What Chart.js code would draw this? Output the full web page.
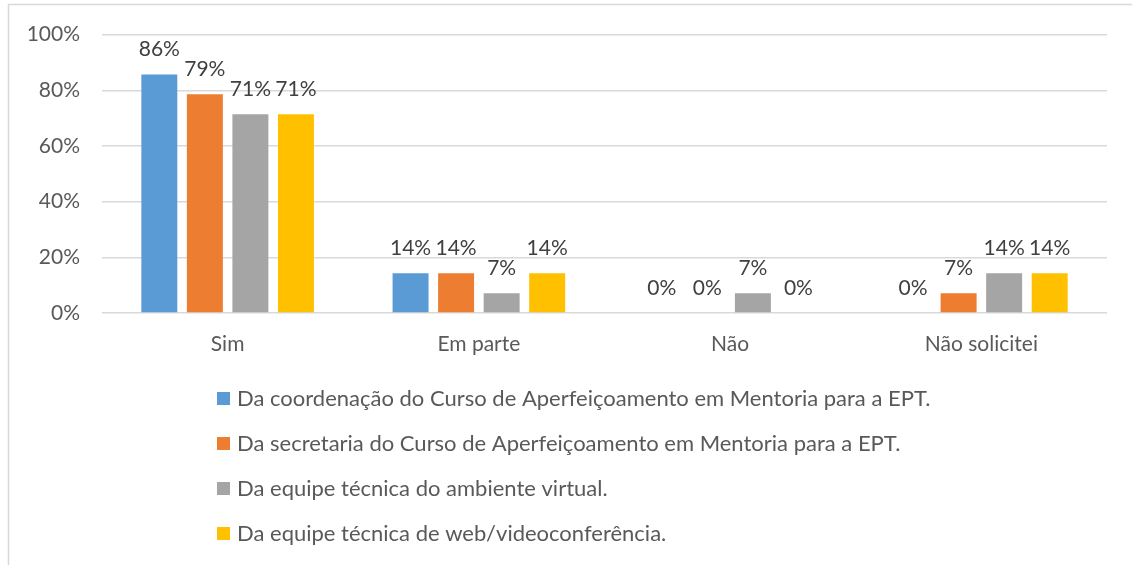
<!DOCTYPE html>
<html><head><meta charset="utf-8">
<script src="https://cdn.jsdelivr.net/npm/chart.js@4"></script>
<style>html,body{margin:0;padding:0;background:#fff;}#wrap{width:1132px;height:565px;position:relative}</style>
</head><body><div id="wrap"><canvas id="c" width="1132" height="565"></canvas></div>
<script>
const categories = ["Sim", "Em parte", "Não", "Não solicitei"];
const seriesNames = [
  "Da coordenação do Curso de Aperfeiçoamento em Mentoria para a EPT.",
  "Da secretaria do Curso de Aperfeiçoamento em Mentoria para a EPT.",
  "Da equipe técnica do ambiente virtual.",
  "Da equipe técnica de web/videoconferência."
];
const coordenacao = [85.7, 14.3, 0, 0];
const secretaria = [78.6, 14.3, 0, 7.1];
const ambienteVirtual = [71.4, 7.1, 7.1, 14.3];
const webconferencia = [71.4, 14.3, 0, 14.3];
const colors = ["#5b9bd5", "#ed7d31", "#a5a5a5", "#ffc000"];
const yTicks = [0, 20, 40, 60, 80, 100];

const FONT = "Lato, 'Open Sans', sans-serif";
const values = [coordenacao, secretaria, ambienteVirtual, webconferencia];

const framePlugin = {
  id: 'frame',
  beforeDraw(chart) {
    const ctx = chart.ctx;
    ctx.save();
    ctx.strokeStyle = '#d9d9d9';
    ctx.lineWidth = 1.5;
    ctx.beginPath();
    ctx.moveTo(8.5, 565); ctx.lineTo(8.5, 4.5); ctx.lineTo(1132, 4.5);
    ctx.stroke();
    ctx.restore();
  }
};

const labelPlugin = {
  id: 'labels',
  afterDatasetsDraw(chart) {
    const ctx = chart.ctx;
    ctx.save();
    ctx.font = "21px " + FONT;
    ctx.fillStyle = '#404040';
    ctx.textAlign = 'center';
    ctx.textBaseline = 'middle';
    chart.data.datasets.forEach((ds, i) => {
      const meta = chart.getDatasetMeta(i);
      meta.data.forEach((bar, j) => {
        ctx.fillText(Math.round(ds.data[j]) + '%', bar.x, bar.y - 25);
      });
    });
    ctx.restore();
  }
};

const legendPlugin = {
  id: 'customLegend',
  afterDraw(chart) {
    const ctx = chart.ctx;
    ctx.save();
    ctx.font = "22px " + FONT;
    ctx.textBaseline = 'middle';
    ctx.textAlign = 'left';
    chart.data.datasets.forEach((ds, i) => {
      const y = 398 + i * 45;
      ctx.fillStyle = ds.backgroundColor;
      ctx.fillRect(217, y - 6, 13, 13);
      ctx.fillStyle = '#595959';
      ctx.fillText(ds.label, 237, y + 1);
    });
    ctx.restore();
  }
};

new Chart(document.getElementById('c'), {
  type: 'bar',
  data: {
    labels: categories,
    datasets: seriesNames.map((n, i) => ({
      label: n,
      data: values[i],
      backgroundColor: colors[i],
      categoryPercentage: 0.725,
      barPercentage: 0.79
    }))
  },
  options: {
    responsive: false,
    animation: false,
    layout: { padding: { left: 0, right: 25, top: 34, bottom: 0 } },
    plugins: { legend: { display: false }, tooltip: { enabled: false } },
    scales: {
      x: {
        grid: { display: false, drawTicks: false },
        border: { display: false },
        ticks: { color: '#595959', font: { family: FONT, size: 21 }, padding: 19 },
        afterFit(s) { s.height = 565 - 34 - 313 + 34; }
      },
      y: {
        min: 0, max: 100,
        afterBuildTicks(s) { s.ticks = yTicks.map(v => ({ value: v })); },
        grid: { color: '#d9d9d9', lineWidth: 1.5, drawTicks: false },
        border: { display: false },
        ticks: { color: '#595959', font: { family: FONT, size: 21 }, padding: 22, callback: v => v + '%' },
        afterFit(s) { s.width = 102; }
      }
    }
  },
  plugins: [framePlugin, labelPlugin, legendPlugin]
});
</script></body></html>
